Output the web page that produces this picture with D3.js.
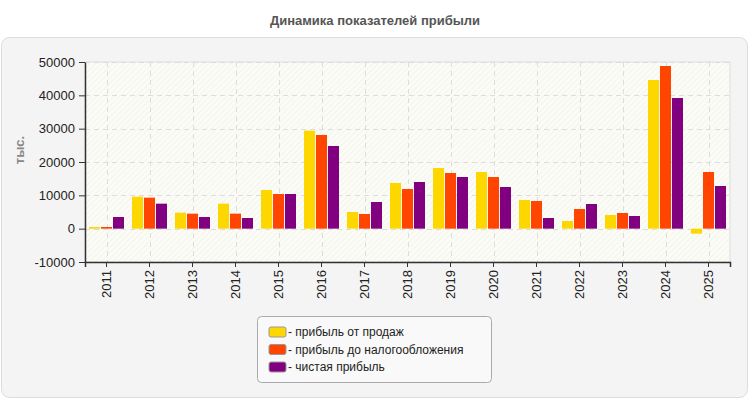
<!DOCTYPE html>
<html>
<head>
<meta charset="utf-8">
<script src="https://cdn.jsdelivr.net/npm/d3@7"></script>
<style>
  body { margin: 0; background: #fff; font-family: Arial, "Liberation Sans", sans-serif; }
</style>
</head>
<body>
<div id="chart"></div>
<script>
// data
var years = ["2011", "2012", "2013", "2014", "2015", "2016", "2017", "2018",
             "2019", "2020", "2021", "2022", "2023", "2024", "2025"];
var salesProfit = [500, 9600, 4800, 7500, 11600, 29400, 5000, 13700,
                   18200, 17000, 8600, 2300, 4100, 44600, -1500];
var preTaxProfit = [500, 9300, 4500, 4500, 10400, 28100, 4400, 11900,
                    16700, 15500, 8300, 5900, 4700, 48800, 17000];
var netProfit = [3500, 7500, 3500, 3200, 10400, 24800, 8000, 14000,
                 15500, 12500, 3200, 7400, 3800, 39200, 12800];
var seriesNames = ["прибыль от продаж", "прибыль до налогообложения", "чистая прибыль"];
var seriesColors = ["#ffd700", "#ff4500", "#800080"];
var yTicks = [-10000, 0, 10000, 20000, 30000, 40000, 50000];

var width = 750, height = 400;
var plotLeft = 85, plotRight = 730, plotTop = 62, plotBottom = 262;

var svg = d3.select("#chart").append("svg")
    .attr("width", width)
    .attr("height", height);

var defs = svg.append("defs");
var pat = defs.append("pattern")
    .attr("id", "hatch")
    .attr("patternUnits", "userSpaceOnUse")
    .attr("width", 4).attr("height", 4)
    .attr("patternTransform", "rotate(45)");
pat.append("rect").attr("width", 4).attr("height", 4).attr("fill", "#fcfcf6");
pat.append("line").attr("x1", 0).attr("y1", 0).attr("x2", 0).attr("y2", 4)
    .attr("stroke", "#efefea").attr("stroke-width", 1.2);

// title
svg.append("text")
    .attr("x", 375).attr("y", 25)
    .attr("text-anchor", "middle")
    .attr("font-size", 13).attr("font-weight", "bold")
    .attr("fill", "#555")
    .text("Динамика показателей прибыли");

// panel
svg.append("rect")
    .attr("x", 1.5).attr("y", 37.5)
    .attr("width", 746).attr("height", 360)
    .attr("rx", 8)
    .attr("fill", "#f4f4f4")
    .attr("stroke", "#dcdcdc");

var x = d3.scaleBand().domain(years).range([plotLeft, plotRight]);
var y = d3.scaleLinear().domain([-10000, 50000]).range([plotBottom, plotTop]);

// plot background
svg.append("rect")
    .attr("x", plotLeft).attr("y", plotTop)
    .attr("width", plotRight - plotLeft).attr("height", plotBottom - plotTop)
    .attr("fill", "url(#hatch)")
    .attr("stroke", "#ddd");

// grid
svg.append("g").selectAll("line").data(yTicks.slice(1)).enter().append("line")
    .attr("x1", plotLeft).attr("x2", plotRight)
    .attr("y1", function(d) { return Math.round(y(d)) + 0.5; })
    .attr("y2", function(d) { return Math.round(y(d)) + 0.5; })
    .attr("stroke", "#ddd").attr("stroke-dasharray", "5,4");
svg.append("g").selectAll("line").data(years).enter().append("line")
    .attr("x1", function(d) { return Math.round(x(d) + x.bandwidth() / 2) + 0.5; })
    .attr("x2", function(d) { return Math.round(x(d) + x.bandwidth() / 2) + 0.5; })
    .attr("y1", plotTop).attr("y2", plotBottom)
    .attr("stroke", "#ddd").attr("stroke-dasharray", "5,4");

// bars
var x1 = d3.scaleBand().domain([0, 1, 2]).range([4, x.bandwidth() - 4]).paddingInner(0.08);
var allSeries = [salesProfit, preTaxProfit, netProfit];
allSeries.forEach(function(values, s) {
    svg.append("g").selectAll("rect").data(values).enter().append("rect")
        .attr("x", function(d, i) { return x(years[i]) + x1(s); })
        .attr("width", x1.bandwidth())
        .attr("y", function(d) { return y(Math.max(0, d)); })
        .attr("height", function(d) { return Math.abs(y(d) - y(0)); })
        .attr("fill", seriesColors[s]);
});

// axes
var yAxis = svg.append("g")
    .attr("transform", "translate(" + plotLeft + ",0)")
    .call(d3.axisLeft(y).tickValues(yTicks).tickFormat(function(d) { return String(d); })
        .tickSizeOuter(0).tickPadding(4));
var xAxis = svg.append("g")
    .attr("transform", "translate(0," + plotBottom + ")")
    .call(d3.axisBottom(x).tickSizeOuter(0).tickSize(5));
[yAxis, xAxis].forEach(function(a) {
    a.select(".domain").attr("stroke", "#333").attr("stroke-width", 1.5);
    a.selectAll(".tick line").attr("stroke", "#333");
    a.selectAll("text").attr("font-size", 13).attr("fill", "#222")
        .attr("font-family", "Arial, 'Liberation Sans', sans-serif");
});
xAxis.selectAll("text")
    .attr("transform", "rotate(-90)")
    .attr("text-anchor", "end")
    .attr("x", -8).attr("y", 0).attr("dy", "0.35em");

// y title
svg.append("text")
    .attr("transform", "translate(24,150) rotate(-90)")
    .attr("text-anchor", "middle")
    .attr("font-size", 13).attr("font-weight", "bold")
    .attr("fill", "#888")
    .text("тыс.");

// legend
var legend = svg.append("g").attr("transform", "translate(257,316)");
legend.append("rect")
    .attr("x", 0.5).attr("y", 0.5)
    .attr("width", 234).attr("height", 66)
    .attr("rx", 4)
    .attr("fill", "#f9f9f9").attr("stroke", "#aaa");
var items = legend.selectAll("g.item").data(seriesNames).enter().append("g")
    .attr("transform", function(d, i) { return "translate(12," + (11 + i * 17.5) + ")"; });
items.append("rect")
    .attr("width", 17).attr("height", 10).attr("rx", 2)
    .attr("fill", function(d, i) { return seriesColors[i]; })
    .attr("stroke", "#999");
items.append("text")
    .attr("x", 19).attr("y", 5).attr("dy", "0.35em")
    .attr("font-size", 12).attr("fill", "#222")
    .text(function(d) { return "- " + d; });
</script>
</body>
</html>
